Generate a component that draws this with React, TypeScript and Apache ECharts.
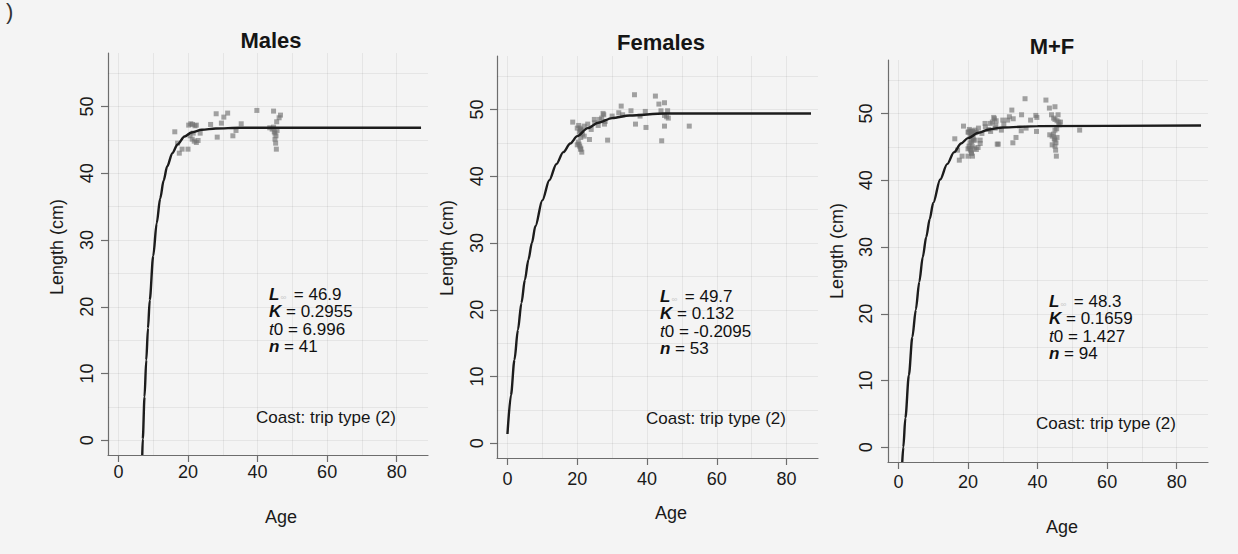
import React, { useEffect, useRef } from "react";
import * as echarts from "echarts";

// ---------- data ----------
const panelTitles = ["Males", "Females", "M+F"];
const xTicks = [0, 20, 40, 60, 80];
const yTicks = [0, 10, 20, 30, 40, 50];
const xGridValues = [0, 10, 20, 30, 40, 50, 60, 70, 80];
const yGridValues = [0, 5, 10, 15, 20, 25, 30, 35, 40, 45, 50, 55];

const maleAge = [16.2, 17.5, 18.3, 20.0, 20.2, 20.8, 21.3, 22.0, 22.4, 20.6, 21.2, 21.8, 22.4, 22.9, 21.5, 26.5, 28.4, 28.1, 30.3, 31.4, 29.6, 32.9, 33.8, 35.3, 39.8, 44.6, 46.2, 45.5, 43.5, 44.2, 44.8, 45.0, 45.3, 45.0, 45.2, 45.4, 44.6, 45.6, 46.6, 17.0, 23.5];
const maleLen = [46.2, 43.0, 43.6, 43.6, 47.2, 47.4, 47.3, 47.1, 47.2, 45.6, 45.1, 44.8, 44.6, 44.9, 46.0, 47.3, 45.4, 48.9, 48.4, 49.0, 47.5, 45.6, 46.4, 47.4, 49.4, 49.3, 48.3, 47.7, 46.8, 46.6, 46.2, 46.0, 45.6, 45.1, 44.5, 43.6, 46.9, 46.4, 48.7, 44.5, 46.0];

const femAge = [18.7, 20.4, 20.8, 21.2, 21.5, 20.6, 21.0, 20.3, 20.7, 21.0, 21.3, 20.5, 23.5, 24.9, 26.4, 27.4, 27.6, 27.8, 28.7, 31.9, 32.6, 35.4, 36.4, 36.7, 39.5, 39.7, 42.4, 43.4, 45.0, 45.9, 45.0, 45.6, 46.1, 45.0, 44.2, 52.1, 20.0, 21.0, 21.0, 22.0, 20.0, 21.0, 22.0, 23.0, 24.0, 25.0, 26.0, 27.0, 28.0, 30.0, 33.0, 38.0, 44.0];
const femLen = [48.1, 47.6, 47.2, 46.8, 46.3, 46.6, 47.0, 45.1, 44.5, 44.0, 43.6, 44.8, 45.5, 48.5, 48.5, 49.4, 49.2, 47.8, 45.4, 49.5, 50.5, 49.8, 52.2, 47.8, 49.7, 47.3, 52.0, 50.8, 51.0, 49.8, 49.1, 48.9, 48.7, 47.5, 45.3, 47.5, 47.2, 46.8, 45.8, 46.0, 44.7, 44.2, 47.5, 47.8, 47.0, 48.0, 47.6, 48.7, 48.2, 49.0, 49.2, 49.0, 49.8];

const maleCurveAge = [6.85, 7.0, 7.5, 8.0, 8.5, 9.0, 10, 11, 12, 13, 14, 15.5, 17, 19, 21, 24, 28, 35, 87];
const maleCurveLen = [-2.2, 0.2, 6.5, 12.0, 16.8, 21.0, 27.6, 32.5, 36.2, 38.9, 41.0, 43.0, 44.3, 45.5, 46.1, 46.5, 46.7, 46.8, 46.8];
const femCurveAge = [0, 1, 2, 3, 4, 5, 6, 7, 8, 10, 12, 14, 16, 18, 20, 23, 26, 30, 35, 45, 87];
const femCurveLen = [1.4, 7.2, 12.5, 17.0, 21.0, 24.5, 27.5, 30.0, 32.5, 36.4, 39.4, 41.8, 43.6, 44.9, 46.0, 47.2, 48.0, 48.7, 49.1, 49.4, 49.4];
const mfCurveAge = [1.1, 1.4, 2, 3, 4, 5, 6, 7, 8, 9, 10, 12, 14, 16, 18, 20, 23, 26, 30, 40, 87];
const mfCurveLen = [-2.2, 0, 4.4, 10.8, 16.5, 20.6, 24.8, 28.5, 31.5, 34.2, 36.6, 40.1, 42.4, 44.2, 45.5, 46.3, 47.1, 47.6, 47.9, 48.1, 48.2];

const paramLinf = ["46.9", "49.7", "48.3"];
const paramK = ["0.2955", "0.132", "0.1659"];
const paramT0 = ["6.996", "-0.2095", "1.427"];
const paramN = ["41", "53", "94"];
const footnote = "Coast: trip type (2)";

// ---------- helpers ----------
const zip = (a: number[], b: number[]) => a.map((v, i) => [v, b[i]]);
const malePts = zip(maleAge, maleLen);
const femPts = zip(femAge, femLen);
const mfPts = [...malePts, ...femPts];
const pointSets = [malePts, femPts, mfPts];
const curveSets = [zip(maleCurveAge, maleCurveLen), zip(femCurveAge, femCurveLen), zip(mfCurveAge, mfCurveLen)];

const FONT = "'Liberation Sans', Arial, Helvetica, sans-serif";

// layout
const grids = [
  { left: 108, top: 53, width: 320, height: 402 },
  { left: 497, top: 56, width: 321, height: 402 },
  { left: 888, top: 60, width: 320, height: 402 },
];
const xLabelMargin = [8, 12, 11];
const yLabelMargin = [12, 11, 13];
const titlePos = [[271, 40], [661, 42], [1052, 46]];
const yNamePos = [[57, 247], [447, 248], [837, 251]];
const xNamePos = [[281, 517], [671, 513], [1062, 527]];
const annotPos = [[269, 294], [660, 296], [1049, 301]];
const notePos = [[326, 417], [716, 418], [1106, 423]];

function buildOption() {
  const axisColor = "#6d6d6d";
  const textColor = "#1a1a1a";
  const xAxis = grids.map((_, i) => ({
    gridIndex: i,
    type: "value",
    min: -3,
    max: 89,
    axisLine: { show: true, onZero: false, lineStyle: { color: axisColor, width: 1.2 } },
    axisTick: { show: true, inside: false, length: 7, customValues: xTicks, lineStyle: { color: axisColor, width: 1.2 } },
    axisLabel: { customValues: xTicks, margin: xLabelMargin[i], fontSize: 18, color: textColor, fontFamily: FONT },
    splitLine: { show: false },
  }));
  const yAxis = grids.map((_, i) => ({
    gridIndex: i,
    type: "value",
    min: -2.2,
    max: 58,
    axisLine: { show: true, onZero: false, lineStyle: { color: axisColor, width: 1.2 } },
    axisTick: { show: true, inside: false, length: 7, customValues: yTicks, lineStyle: { color: axisColor, width: 1.2 } },
    axisLabel: { customValues: yTicks, rotate: 90, margin: yLabelMargin[i], fontSize: 18, color: textColor, fontFamily: FONT },
    splitLine: { show: false },
  }));

  const series: any[] = [];
  grids.forEach((_, i) => {
    series.push({
      type: "scatter",
      xAxisIndex: i,
      yAxisIndex: i,
      data: pointSets[i],
      symbol: "rect",
      symbolSize: 5,
      itemStyle: { color: "rgba(112,112,112,0.8)" },
      z: 2,
      markLine: {
        silent: true,
        z: 1,
        symbol: ["none", "none"],
        label: { show: false },
        lineStyle: { color: "rgba(0,0,0,0.06)", width: 1, type: "solid" },
        data: [
          ...xGridValues.map((v) => ({ xAxis: v })),
          ...yGridValues.map((v) => ({ yAxis: v })),
        ],
      },
    });
    series.push({
      type: "line",
      xAxisIndex: i,
      yAxisIndex: i,
      data: curveSets[i],
      smooth: 0.3,
      smoothMonotone: "x",
      showSymbol: false,
      symbol: "none",
      lineStyle: { color: "#1c1c1c", width: 2.4 },
      z: 3,
    });
  });

  const graphic: any[] = [];
  graphic.push({ type: "text", x: 6, y: 0, style: { text: ")", fontSize: 22, fontFamily: FONT, fill: "#333" } });
  grids.forEach((_, i) => {
    graphic.push({
      type: "text", x: titlePos[i][0], y: titlePos[i][1],
      style: { text: panelTitles[i], fontSize: 22, fontWeight: "bold", fontFamily: FONT, fill: "#151515", align: "center", verticalAlign: "middle" },
    });
    graphic.push({
      type: "text", x: yNamePos[i][0], y: yNamePos[i][1], rotation: Math.PI / 2,
      style: { text: "Length (cm)", fontSize: 18, fontFamily: FONT, fill: textColor, align: "center", verticalAlign: "middle" },
    });
    graphic.push({
      type: "text", x: xNamePos[i][0], y: xNamePos[i][1],
      style: { text: "Age", fontSize: 18, fontFamily: FONT, fill: textColor, align: "center", verticalAlign: "middle" },
    });
    const [ax, ay] = annotPos[i];
    const lh = 17.5;
    const rich = {
      it: { fontSize: 17, fontStyle: "italic", fontWeight: "bold", fontFamily: FONT, fill: "#111" },
      ti: { fontSize: 17, fontStyle: "italic", fontFamily: FONT, fill: "#111" },
      inf: { fontSize: 8, fontFamily: FONT, fill: "#c8c8c8", padding: [7, 3, 0, 1] },
      r: { fontSize: 17, fontFamily: FONT, fill: "#111" },
    };
    const lines = [
      `{it|L}{inf|∞}{r| = ${paramLinf[i]}}`,
      `{it|K}{r| = ${paramK[i]}}`,
      `{ti|t}{r|0 = ${paramT0[i]}}`,
      `{it|n}{r| = ${paramN[i]}}`,
    ];
    lines.forEach((t, k) => {
      graphic.push({
        type: "text", x: ax, y: ay + k * lh,
        style: { text: t, rich, fontSize: 17, fontFamily: FONT, align: "left", verticalAlign: "middle" },
      });
    });
    graphic.push({
      type: "text", x: notePos[i][0], y: notePos[i][1],
      style: { text: footnote, fontSize: 17, fontFamily: FONT, fill: "#161616", align: "center", verticalAlign: "middle" },
    });
  });

  return {
    animation: false,
    backgroundColor: "#f4f4f4",
    grid: grids.map((g) => ({ ...g, containLabel: false })),
    xAxis,
    yAxis,
    series,
    graphic,
  };
}

export default function App() {
  const ref = useRef<HTMLDivElement>(null);
  useEffect(() => {
    if (!ref.current) return;
    const chart = echarts.init(ref.current, null, { renderer: "svg" });
    chart.setOption(buildOption() as any);
    return () => chart.dispose();
  }, []);
  return <div ref={ref} style={{ position: "fixed", left: 0, top: 0, width: 1238, height: 554 }} />;
}
